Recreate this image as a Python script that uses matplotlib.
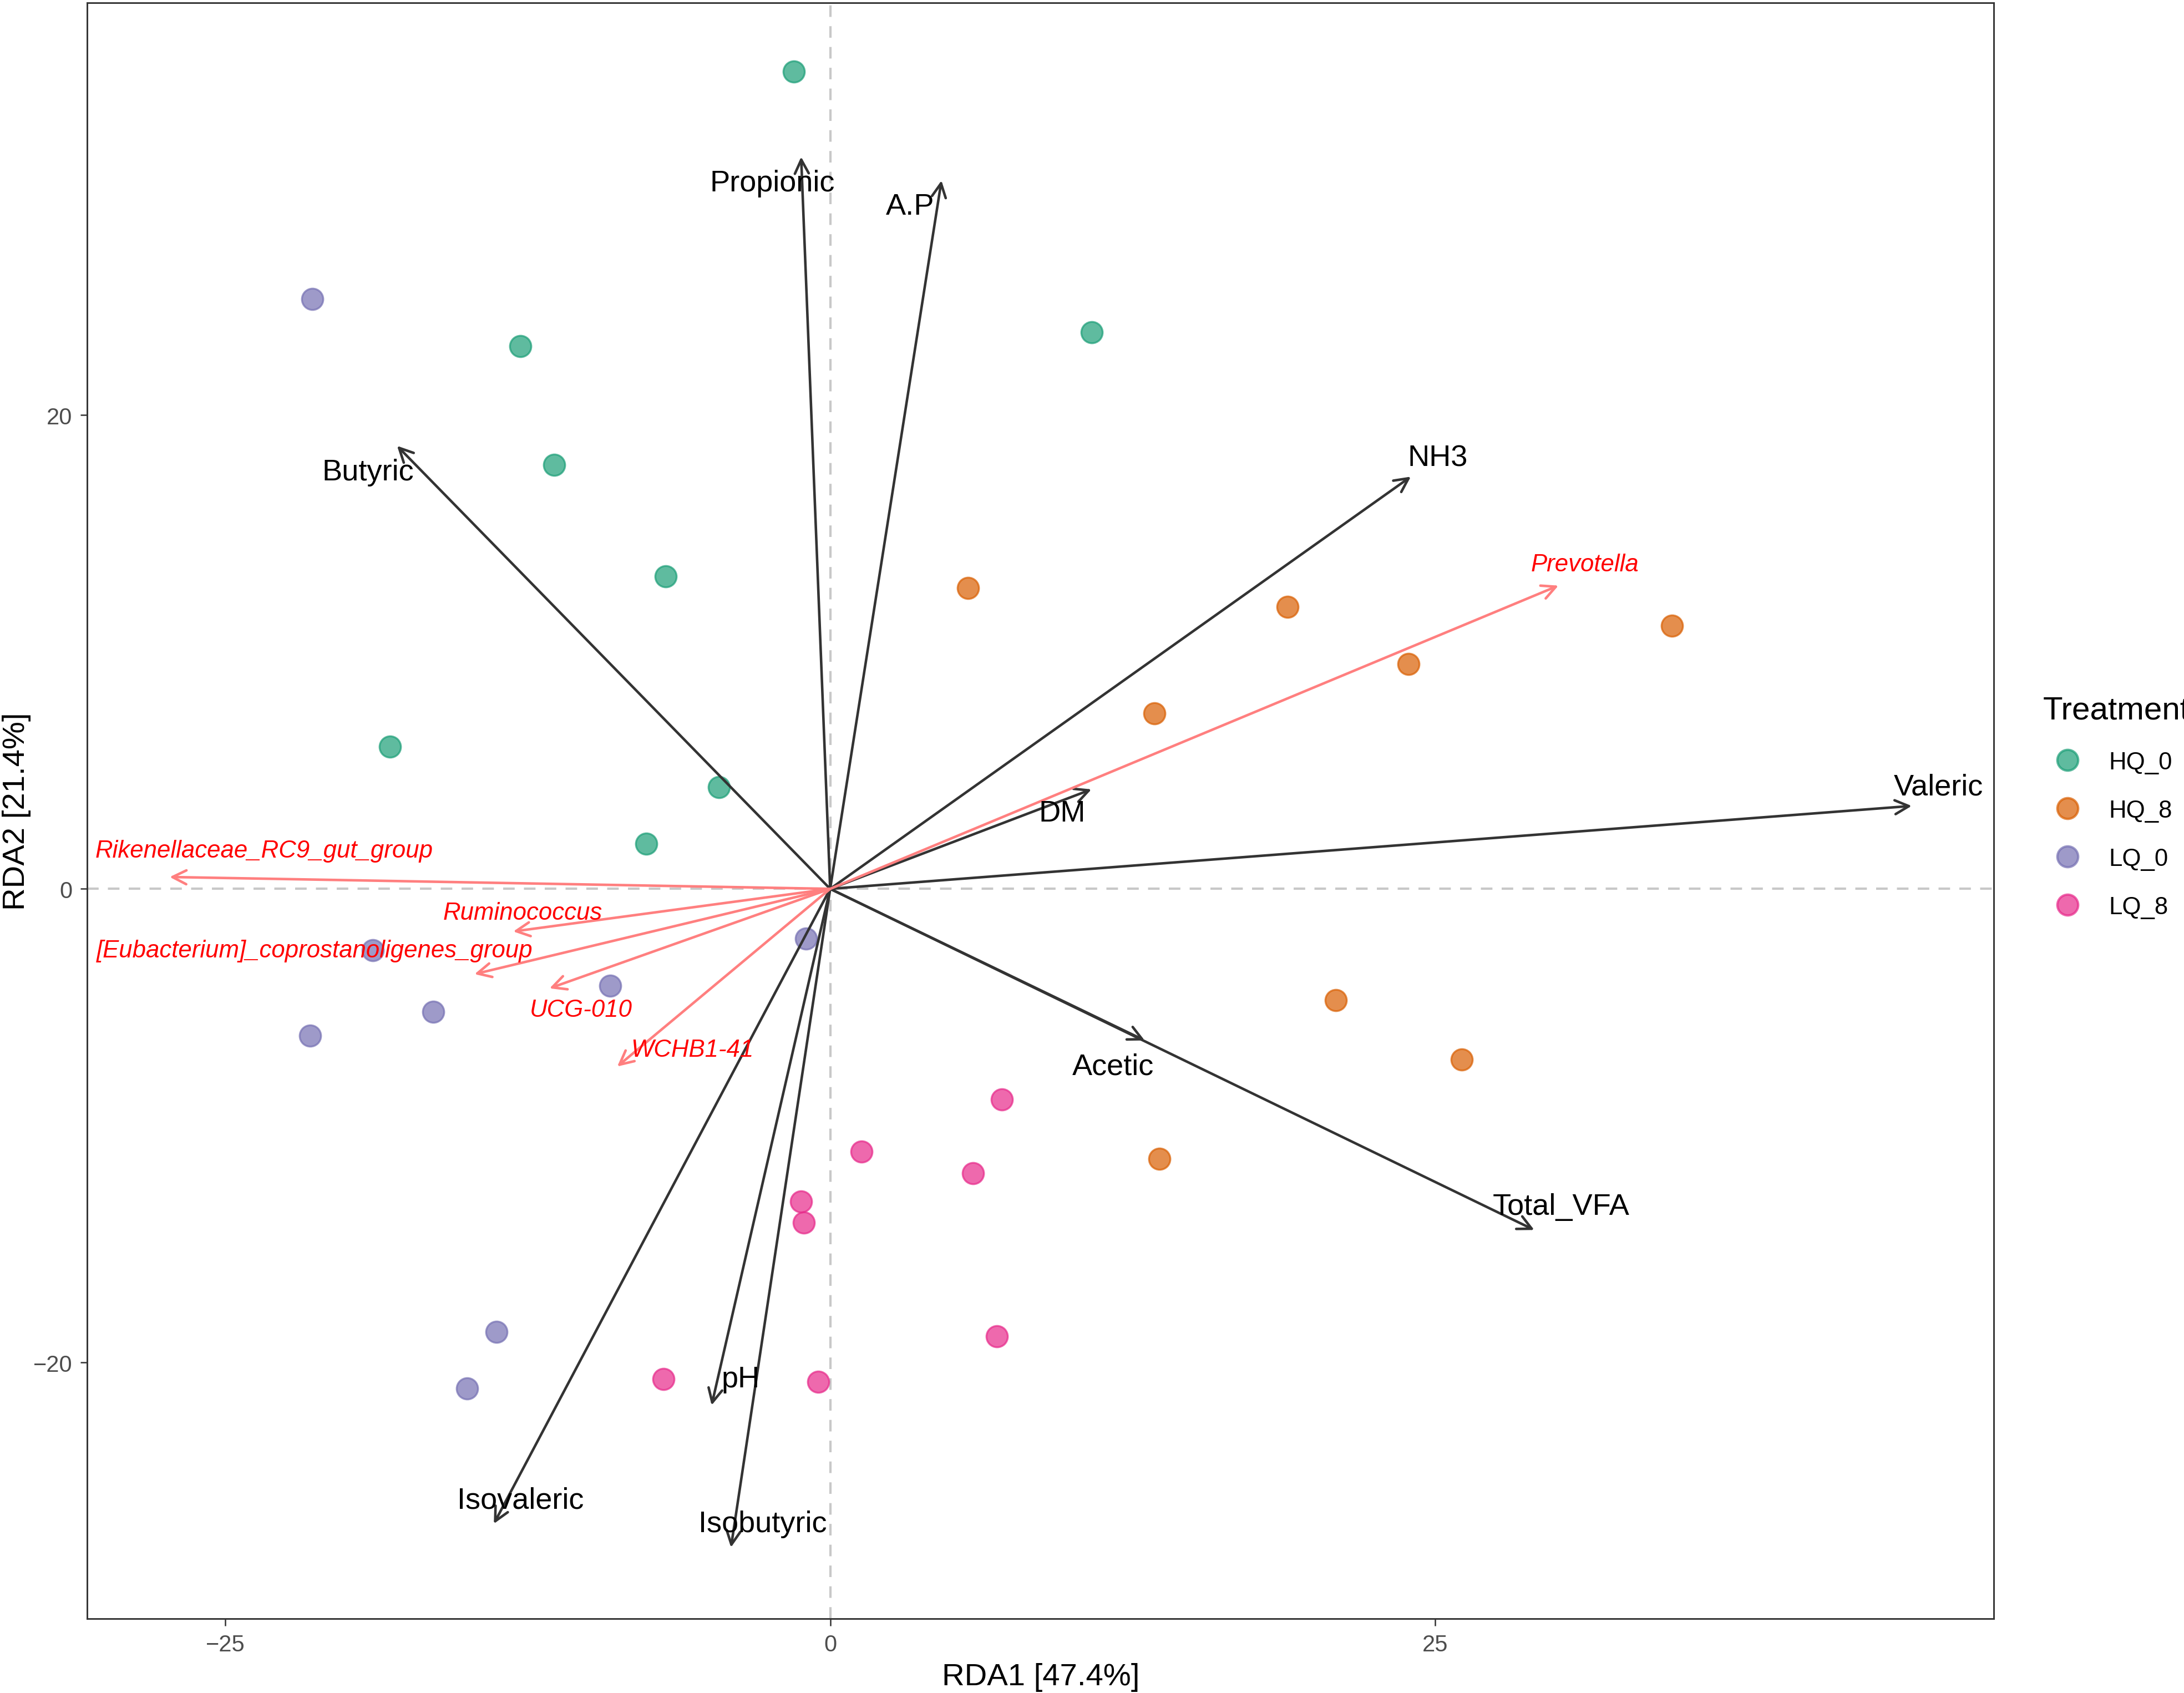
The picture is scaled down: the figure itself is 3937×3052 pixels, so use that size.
import matplotlib
matplotlib.use('Agg')
import matplotlib.pyplot as plt
from matplotlib.lines import Line2D

plt.rcParams['font.family'] = ['Liberation Sans', 'DejaVu Sans']

# sample scores per treatment (RDA1, RDA2)
groups = ['HQ_0', 'HQ_8', 'LQ_0', 'LQ_8']
colors = ['#1B9E77', '#D95F02', '#7570B3', '#E7298A']
hq0_x = [-1.5, -12.8, 10.8, -11.4, -6.8, -18.2, -4.6, -7.6]
hq0_y = [34.5, 22.9, 23.5, 17.9, 13.2, 6.0, 4.3, 1.9]
hq8_x = [5.7, 18.9, 34.8, 23.9, 13.4, 20.9, 26.1, 13.6]
hq8_y = [12.7, 11.9, 11.1, 9.5, 7.4, -4.7, -7.2, -11.4]
lq0_x = [-21.4, -1.0, -18.9, -9.1, -16.4, -21.5, -13.8, -15.0]
lq0_y = [24.9, -2.1, -2.6, -4.1, -5.2, -6.2, -18.7, -21.1]
lq8_x = [7.1, 1.3, 5.9, -1.2, -1.1, 6.9, -6.9, -0.5]
lq8_y = [-8.9, -11.1, -12.0, -13.2, -14.1, -18.9, -20.7, -20.8]
group_x = [hq0_x, hq8_x, lq0_x, lq8_x]
group_y = [hq0_y, hq8_y, lq0_y, lq8_y]

# environmental factor arrows: tip and label position
env_names = ['Propionic', 'A.P', 'Butyric', 'NH3', 'DM', 'Valeric', 'Acetic',
             'Total_VFA', 'pH', 'Isobutyric', 'Isovaleric']
env_x = [-1.2, 4.6, -17.9, 24.0, 10.8, 44.7, 13.0, 29.1, -4.9, -4.1, -13.9]
env_y = [30.9, 29.9, 18.7, 17.4, 4.2, 3.5, -6.4, -14.4, -21.8, -27.8, -26.8]
env_lx = [-2.4, 3.3, -19.1, 25.1, 9.6, 45.8, 11.7, 30.2, -3.7, -2.8, -12.8]
env_ly = [29.8, 28.8, 17.6, 18.2, 3.2, 4.3, -7.5, -13.4, -20.7, -26.8, -25.8]

# genus arrows
sp_names = ['Prevotella', 'Rikenellaceae_RC9_gut_group', 'Ruminococcus',
            '[Eubacterium]_coprostanoligenes_group', 'UCG-010', 'WCHB1-41']
sp_x = [30.1, -27.3, -13.1, -14.7, -11.6, -8.8]
sp_y = [12.8, 0.5, -1.8, -3.6, -4.2, -7.5]
sp_lx = [31.2, -23.4, -12.7, -21.3, -10.3, -5.7]
sp_ly = [13.7, 1.6, -1.0, -2.6, -5.1, -6.8]

fig = plt.figure(figsize=(3937 / 300, 3053 / 300), dpi=300)
ax = fig.add_axes([0.040, 0.044, 0.873, 0.954])

ax.axhline(0, color='#c8c8c8', lw=1.0, ls=(0, (5, 4)), zorder=1)
ax.axvline(0, color='#c8c8c8', lw=1.0, ls=(0, (5, 4)), zorder=1)

for xs, ys, c in zip(group_x, group_y, colors):
    ax.scatter(xs, ys, s=85, color=c, alpha=0.7, edgecolors=c, linewidths=0.8, zorder=3)

for x, y, lx, ly, name in zip(env_x, env_y, env_lx, env_ly, env_names):
    ax.annotate('', xy=(x, y), xytext=(0, 0),
                arrowprops=dict(arrowstyle='->', color='#333333', lw=1.1,
                                mutation_scale=15, shrinkA=0, shrinkB=0), zorder=4)
    ax.text(lx, ly, name, ha='center', va='center', fontsize=13, color='black', zorder=5)

for x, y, lx, ly, name in zip(sp_x, sp_y, sp_lx, sp_ly, sp_names):
    ax.annotate('', xy=(x, y), xytext=(0, 0),
                arrowprops=dict(arrowstyle='->', color='#ff7f7f', lw=1.1,
                                mutation_scale=15, shrinkA=0, shrinkB=0), zorder=4)
    ax.text(lx, ly, name, ha='center', va='center', fontsize=10.5, color='red',
            style='italic', zorder=5)

ax.set_xlim(-30.7, 48.1)
ax.set_ylim(-30.8, 37.4)
ax.set_xticks([-25, 0, 25])
ax.set_yticks([-20, 0, 20])
ax.tick_params(labelsize=10, length=3, width=0.6, colors='#333333', labelcolor='#4d4d4d')
for sp in ax.spines.values():
    sp.set_linewidth(0.7)
    sp.set_color('#333333')
ax.set_xlabel('RDA1 [47.4%]', fontsize=13.5, labelpad=3)
ax.set_ylabel('RDA2 [21.4%]', fontsize=13.5, labelpad=1)

handles = [Line2D([], [], marker='o', ls='', markersize=9, color=c, alpha=0.7,
                  markeredgecolor=c) for c in colors]
leg = fig.legend(handles, groups, title='Treatment', loc='upper left',
                 bbox_to_anchor=(0.9355, 0.589), frameon=False, fontsize=10.5,
                 title_fontsize=14, handletextpad=0.7, labelspacing=1.05,
                 borderaxespad=0, borderpad=0)
leg._legend_box.align = 'left'

fig.savefig('out.png', dpi=300)
